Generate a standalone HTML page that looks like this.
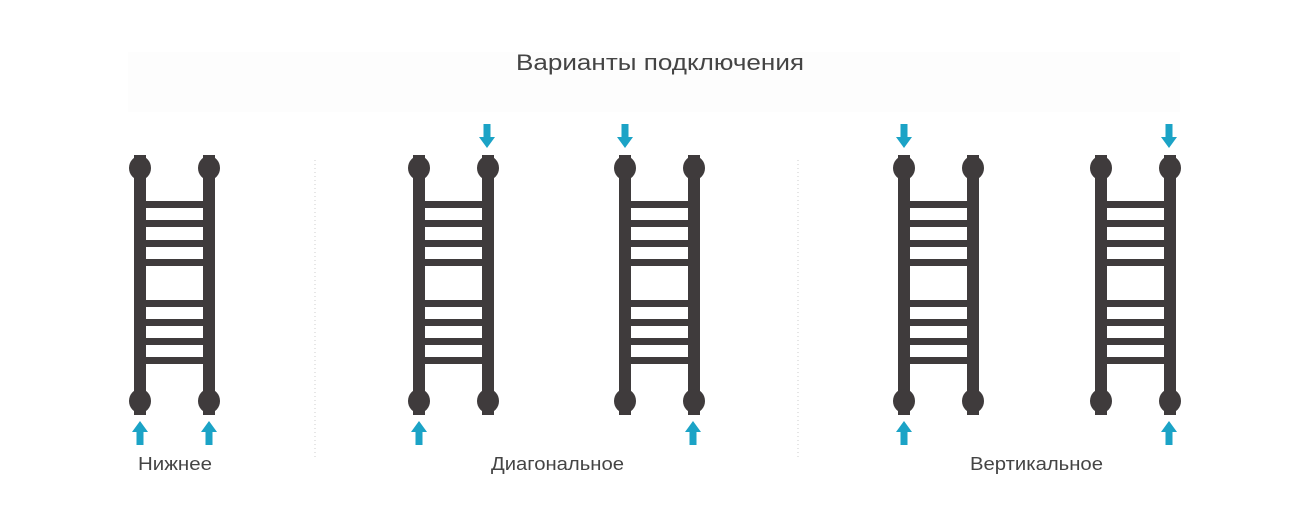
<!DOCTYPE html>
<html><head><meta charset="utf-8"><style>
body{margin:0;background:#fff;}
svg{display:block}
text{font-family:"Liberation Sans","DejaVu Sans",sans-serif;fill:#444}
</style></head><body>
<svg width="1310" height="528" viewBox="0 0 1310 528" xmlns="http://www.w3.org/2000/svg">
<defs>
<g id="rad">
  <rect x="-6" y="155" width="12" height="260" fill="#3f3b3c"/>
  <rect x="63" y="155" width="12" height="260" fill="#3f3b3c"/>
  <g fill="#3f3b3c">
    <rect x="0" y="201" width="69" height="7"/>
    <rect x="0" y="220" width="69" height="7"/>
    <rect x="0" y="240" width="69" height="7"/>
    <rect x="0" y="259" width="69" height="7"/>
    <rect x="0" y="300" width="69" height="7"/>
    <rect x="0" y="319" width="69" height="7"/>
    <rect x="0" y="338" width="69" height="7"/>
    <rect x="0" y="357" width="69" height="7"/>
    <ellipse cx="0" cy="168" rx="11" ry="12"/>
    <ellipse cx="69" cy="168" rx="11" ry="12"/>
    <ellipse cx="0" cy="401" rx="11" ry="12"/>
    <ellipse cx="69" cy="401" rx="11" ry="12"/>
  </g>
</g>
<g id="up"><polygon points="0,0 -8,11 -3.5,11 -3.5,24 3.5,24 3.5,11 8,11" fill="#1ba3c6"/></g>
<g id="down"><polygon points="0,0 -8,-11 -3.5,-11 -3.5,-24 3.5,-24 3.5,-11 8,-11" fill="#1ba3c6"/></g>
</defs>
<rect x="128" y="52" width="1052" height="60" fill="#fdfdfd"/>
<text x="516" y="70" font-size="22" textLength="288" lengthAdjust="spacingAndGlyphs">Варианты подключения</text>
<line x1="315" y1="160" x2="315" y2="460" stroke="#ccc" stroke-dasharray="1,3"/>
<line x1="798" y1="160" x2="798" y2="460" stroke="#ccc" stroke-dasharray="1,3"/>
<use href="#rad" x="140"/>
<use href="#rad" x="419"/>
<use href="#rad" x="625"/>
<use href="#rad" x="904"/>
<use href="#rad" x="1101"/>
<use href="#up" x="140" y="421"/>
<use href="#up" x="209" y="421"/>
<use href="#up" x="419" y="421"/>
<use href="#up" x="693" y="421"/>
<use href="#up" x="904" y="421"/>
<use href="#up" x="1169" y="421"/>
<use href="#down" x="487" y="148"/>
<use href="#down" x="625" y="148"/>
<use href="#down" x="904" y="148"/>
<use href="#down" x="1169" y="148"/>
<text x="138" y="470" font-size="18" textLength="74" lengthAdjust="spacingAndGlyphs">Нижнее</text>
<text x="491" y="470" font-size="18" textLength="133" lengthAdjust="spacingAndGlyphs">Диагональное</text>
<text x="970" y="470" font-size="18" textLength="133" lengthAdjust="spacingAndGlyphs">Вертикальное</text>
</svg>
</body></html>
